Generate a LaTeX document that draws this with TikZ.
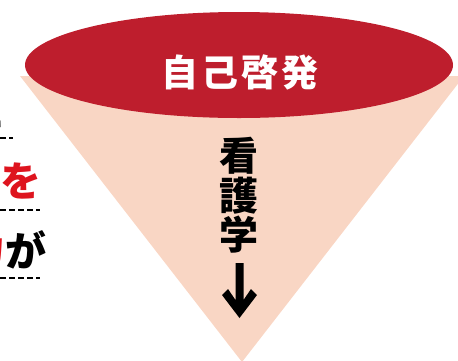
\documentclass[tikz,border=0pt]{standalone}
\usepackage{fontspec}
\newfontfamily\jp{Noto Sans CJK JP}
\definecolor{conered}{RGB}{190,30,45}
\definecolor{conepeach}{RGB}{249,214,196}
\definecolor{textred}{RGB}{222,20,30}
\tikzset{
  sidetext/.style={inner sep=0pt, font=\jp\bfseries\fontsize{41}{41}\selectfont},
  vtext/.style={inner sep=0pt, font=\jp\bfseries\fontsize{39}{39}\selectfont},
  dashline/.style={line width=1.4pt, dash pattern=on 6pt off 3pt},
}
\begin{document}
\begin{tikzpicture}[x=1pt,y=-1pt]
\useasboundingbox (0,0) rectangle (458,360);
\clip (0,0) rectangle (458,360);
% cone
\fill[conepeach] (20,76) -- (242,362) -- (464,76) -- cycle;
% ellipse
\fill[conered] (239,65) ellipse [x radius=214, y radius=53];
\node[inner sep=0pt, text=white, font=\jp\bfseries\fontsize{37}{37}\selectfont] (title) at (240,72) {自\kern3pt 己\kern3pt 啓\kern3pt 発};
% vertical text
\node[vtext] (k1) at (239,156) {看};
\node[vtext] (k2) at (239,196) {護};
\node[vtext] (k3) at (239,235) {学};
\fill (235.5,263) -- (243.5,263) -- (243.5,300) -- (251,289) -- (257,295) -- (239.5,318) -- (222,295) -- (228,289) -- (235.5,300) -- cycle;
% left side texts
\node[sidetext, anchor=east] (ni) at (5,112) {に};
\draw[dashline] (0,138) -- (13,138);
\node[sidetext, text=textred] (wo) at (21,181) {を};
\draw[dashline] (0,210) -- (40,210);
\node[sidetext, text=textred, anchor=east] (ryoku) at (6,250) {力};
\node[sidetext, anchor=west] (ga) at (5,250) {が};
\draw[dashline] (0,278) -- (40,278);
\end{tikzpicture}
\end{document}
